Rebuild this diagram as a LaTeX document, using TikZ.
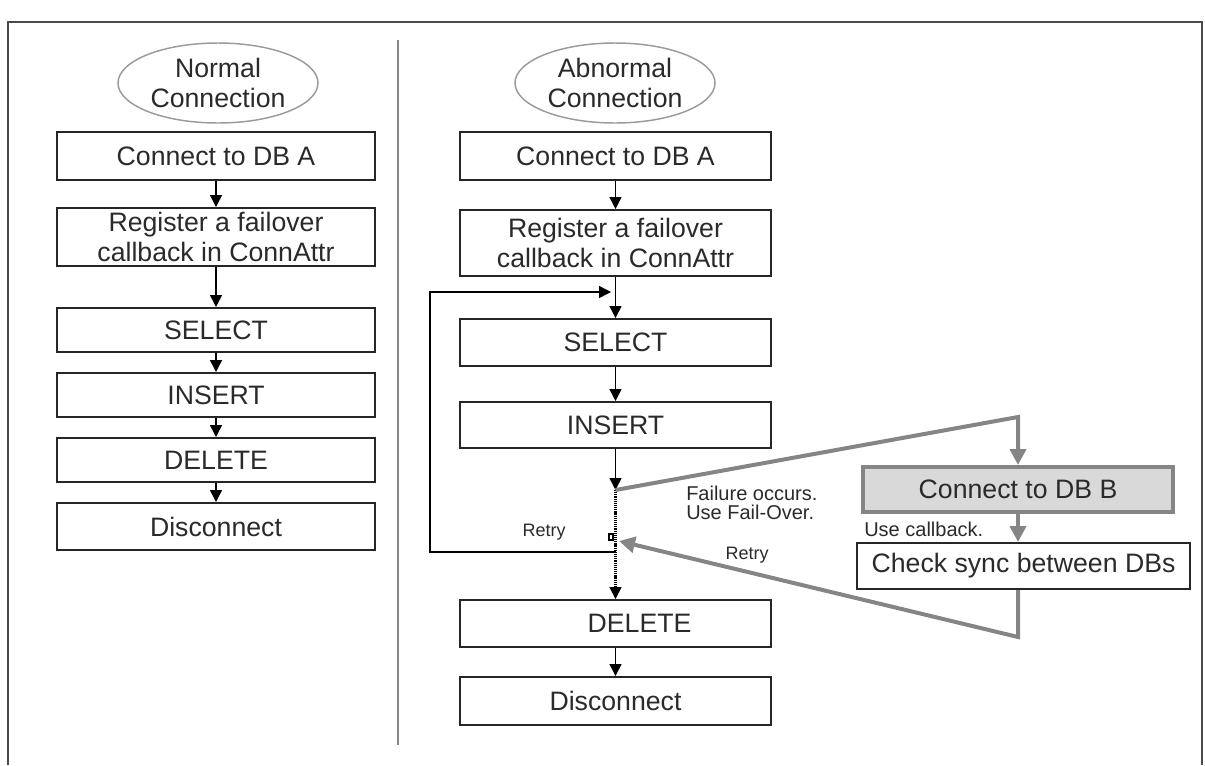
\documentclass[tikz,border=0pt]{standalone}
\usepackage{fontspec}
\setmainfont{Liberation Sans}
\usetikzlibrary{arrows.meta,shapes.geometric}
\definecolor{txt}{HTML}{2A2A2A}
\definecolor{gline}{HTML}{858585}
\definecolor{gfill}{HTML}{D9D9D9}
\definecolor{ellc}{HTML}{9A9A9A}
\definecolor{framec}{HTML}{4A4A4A}
\begin{document}
\begin{tikzpicture}[x=0.75pt,y=-0.75pt,
  box/.style={draw=black!85, line width=1.5pt, inner sep=0pt, align=center, text=txt,
    font=\fontsize{20}{22.5}\selectfont},
  lcol/.style={box, minimum width=238.5pt},
  rcol/.style={box, minimum width=233.25pt},
  oval/.style={ellipse, draw=ellc, line width=1.1pt, minimum width=150pt, minimum height=60pt,
    inner sep=0pt, align=center, text=txt, font=\fontsize{20}{22.5}\selectfont},
  blk/.style={line width=1.1pt, -{Triangle[length=9pt,width=9pt]}},
  chain/.style={line width=1.9pt, dash pattern=on 0.9pt off 0.7pt},
  gry/.style={draw=gline, line width=3pt, -{Triangle[length=12pt,width=12pt,fill=gline]}},
  lbl/.style={text=txt, inner sep=0pt, align=left, font=\fontsize{15}{14.5}\selectfont},
  rlbl/.style={text=txt, inner sep=0pt, font=\fontsize{13.5}{15}\selectfont},
]
\useasboundingbox (0,0) rectangle (1205,765);
\draw[framec, line width=1.5pt] (8,765) -- (8,22) -- (1202,22) -- (1202,765);
\draw[gline, line width=1.9pt] (398,40) -- (398,745);

% left column
\node[oval] (lE) at (218,83) {Normal\\Connection};
\node[lcol, minimum height=36pt] (lA) at (216,156) {Connect to DB A};
\node[lcol, minimum height=43.5pt] (lR) at (216,237) {Register a failover\\callback in ConnAttr};
\node[lcol, minimum height=33pt] (lS) at (216,330) {SELECT};
\node[lcol, minimum height=33pt] (lI) at (216,395) {INSERT};
\node[lcol, minimum height=33pt] (lD) at (216,460) {DELETE};
\node[lcol, minimum height=35.25pt] (lX) at (216,526.5) {Disconnect};
\draw[blk] (lA.south) -- (lR.north);
\draw[blk] (lR.south) -- (lS.north);
\draw[blk] (lS.south) -- (lI.north);
\draw[blk] (lI.south) -- (lD.north);
\draw[blk] (lD.south) -- (lX.north);

% right column
\node[oval] (rE) at (615,83) {Abnormal\\Connection};
\node[rcol, minimum height=36pt] (rA) at (615.5,156) {Connect to DB A};
\node[rcol, minimum height=49.5pt] (rR) at (615.5,243) {Register a failover\\callback in ConnAttr};
\node[rcol, minimum height=35.25pt] (rS) at (615.5,342.5) {SELECT};
\node[rcol, minimum height=34.5pt] (rI) at (615.5,425) {INSERT};
\node[rcol, minimum height=35.25pt] (rD) at (615.5,623.5) {\hspace*{36pt}DELETE};
\node[rcol, minimum height=36pt] (rX) at (615.5,701) {Disconnect};

\coordinate (f) at (615.5,490);
\coordinate (ret) at (615.5,552);
\coordinate (rin) at (611,292);
\coordinate (rb) at (619,541);
\coordinate (gc1) at (1018,417);
\coordinate (gc2) at (1018,637);

\draw[blk] (rA.south) -- (rR.north);
\draw[blk] (rR.south) -- (rS.north);
\draw[blk] (rS.south) -- (rI.north);
\draw[blk] (rI.south) -- (f);
\draw[chain] (f) -- ([yshift=7pt]rD.north);
\draw[blk] ([yshift=8pt]rD.north) -- (rD.north);
\draw[blk] (rD.south) -- (rX.north);
\draw[line width=1.1pt, -{Triangle[length=9pt,width=9pt]}] (ret) -- (430,552) -- (430,292) -- (rin);
\draw[line width=0.8pt] (609,534) rectangle (613,540);

% fail-over side
\node[box, draw=gline, line width=3pt, fill=gfill, minimum width=232.5pt, minimum height=33.75pt] (dbB) at (1018,489.5) {Connect to DB B};
\node[box, minimum width=249.75pt, minimum height=34.5pt] (chk) at (1023.5,566) {Check sync between DBs};

\draw[gry] (f) -- (gc1) -- (dbB.north);
\draw[gry] (dbB.south) -- (dbB.south |- chk.north);
\draw[gry] (dbB |- chk.south) -- (gc2) -- (rb);

\node[lbl, anchor=west] (fail) at (686,503) {Failure occurs.\\Use Fail-Over.};
\node[lbl, anchor=west] (cb) at (864,529) {Use callback.};
\node[rlbl] (r1) at (544,532) {Retry};
\node[rlbl] (r2) at (747,555) {Retry};
\end{tikzpicture}
\end{document}
